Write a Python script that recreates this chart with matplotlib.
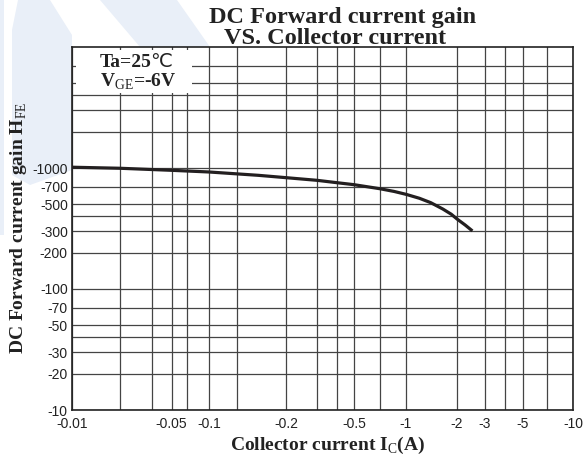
import numpy as np
import matplotlib
matplotlib.use('Agg')
import matplotlib.pyplot as plt
from matplotlib.patches import Polygon, Rectangle

plt.rcParams['mathtext.fontset'] = 'custom'
plt.rcParams['mathtext.rm'] = 'Liberation Serif'
plt.rcParams['mathtext.bf'] = 'Liberation Serif:bold'

# Curva hFE vs Ic (en modulo)
ic = [0.01, 0.02, 0.05, 0.1, 0.17, 0.2, 0.3, 0.4, 0.5, 0.7, 0.85, 1.0, 1.2, 1.4, 1.65, 1.85, 2.0, 2.25, 2.5]
hfe = [1015, 995, 957, 927, 870, 832, 791, 756, 728, 674, 640, 606, 562, 517, 458, 415, 379, 338, 302]

# Ticks con etiqueta
x_ticks = [0.01, 0.05, 0.1, 0.2, 0.5, 1, 2, 3, 5, 10]
x_labels = ['-0.01', '-0.05', '-0.1', '-0.2', '-0.5', '-1', '-2', '-3', '-5', '-10']
y_ticks = [10, 20, 30, 50, 70, 100, 200, 300, 500, 700, 1000]
y_labels = ['-10', '-20', '-30', '-50', '-70', '-100', '-200', '-300', '-500', '-700', '-1000']

# Lineas de grilla sin etiqueta
x_grid = [0.02, 0.03, 0.07, 0.15, 0.3, 0.4, 0.7, 4, 7]
y_grid = [40, 400, 2000, 3000, 4000, 5000, 7000]

# El eje X del original no es logaritmico puro: escala por tramos
scale_vals = [0.01, 0.02, 0.03, 0.05, 0.07, 0.1, 0.15, 0.2, 0.3, 0.4, 0.5, 0.7, 1, 2, 3, 4, 5, 7, 10]
scale_pos = np.array([0, 48, 80, 99.5, 115, 137, 165, 214, 245, 265, 282, 308, 334,
                      385, 413, 433, 451, 475, 501]) / 501.0
scale_log = np.log10(scale_vals)


def fwd(x):
    x = np.clip(np.asarray(x, dtype=float), 1e-6, None)
    return np.interp(np.log10(x), scale_log, scale_pos)


def inv(u):
    return 10 ** np.interp(np.asarray(u, dtype=float), scale_pos, scale_log)


W, H = 588, 457
fig = plt.figure(figsize=(W / 100, H / 100), dpi=100)

# marca de agua celeste de fondo
wm = '#e9eff8'
for pts in [
    [(0, 0), (4, 0), (4, 235), (0, 235)],
    [(18, 0), (50, 0), (72, 35), (72, 170), (30, 185), (12, 175), (12, 30)],
    [(100, 0), (177, 0), (210, 47), (140, 47)],
]:
    fig.add_artist(Polygon([(px / W, 1 - py / H) for px, py in pts], closed=True,
                           facecolor=wm, edgecolor='none', transform=fig.transFigure, zorder=0))

ax = fig.add_axes([72 / W, 1 - 410 / H, (573 - 72) / W, (410 - 47) / H])
ax.set_facecolor('white')
ax.set_xscale('function', functions=(fwd, inv))
ax.set_yscale('log')
ax.set_xlim(0.01, 10)
ax.set_ylim(10, 10000)

ax.set_xticks(x_ticks)
ax.set_xticklabels(x_labels)
ax.set_xticks(x_grid, minor=True)
ax.set_xticklabels([], minor=True)
ax.set_yticks(y_ticks)
ax.set_yticklabels(y_labels)
ax.set_yticks(y_grid, minor=True)
ax.set_yticklabels([], minor=True)

ax.tick_params(which='both', length=0)
ax.tick_params(axis='x', pad=5)
ax.tick_params(axis='y', pad=3)
for lab in ax.get_xticklabels() + ax.get_yticklabels():
    lab.set_fontfamily('Liberation Sans')
    lab.set_fontsize(10)
    lab.set_color('#222222')

ax.grid(True, which='both', color='#444444', linewidth=0.9)
for sp in ax.spines.values():
    sp.set_linewidth(1.2)
    sp.set_color('#222222')

# caja blanca con condiciones
ax.add_patch(Rectangle((4 / 501, (410 - 93) / 363), (192 - 76) / 501, 43 / 363,
                       transform=ax.transAxes, facecolor='white', edgecolor='none', zorder=2))
t1 = ax.text((100 - 72) / 501, (410 - 67) / 363, 'Ta=25', transform=ax.transAxes,
             family='Liberation Serif', fontweight='bold', fontsize=14,
             va='baseline', ha='left', color='#222222', zorder=4)
ax.annotate('℃', xy=(1, 0), xycoords=t1, xytext=(-1, 0), textcoords='offset points',
            family=['Liberation Serif', 'DejaVu Sans'], fontweight='normal', fontsize=14,
            va='bottom', ha='left', color='#222222', zorder=4)
ax.text((100 - 72) / 501, (410 - 87) / 363, r'$\mathbf{V}_{\mathrm{GE}}$=-6V', transform=ax.transAxes,
        family='Liberation Serif', fontweight='bold', fontsize=14,
        va='baseline', ha='left', color='#222222', zorder=4)

ax.plot(ic, hfe, color='#231f20', linewidth=2.3, solid_capstyle='butt', zorder=3)

fig.text(343 / W, 1 - 22.5 / H, 'DC Forward current gain', ha='center', va='baseline',
         family='Liberation Serif', fontweight='bold', fontsize=17.5, color='#222222')
fig.text(335 / W, 1 - 44.5 / H, 'VS. Collector current', ha='center', va='baseline',
         family='Liberation Serif', fontweight='bold', fontsize=17.5, color='#222222')
fig.text(328 / W, 1 - 450 / H, r'Collector current $\mathbf{I}_{\mathrm{C}}$(A)', ha='center',
         va='baseline', family='Liberation Serif', fontweight='bold', fontsize=14, color='#222222')
fig.text(19 / W, 1 - 228 / H, r'DC Forward current gain $\mathbf{H}_{\mathrm{FE}}$', ha='center',
         va='center', rotation=90, family='Liberation Serif', fontweight='bold', fontsize=14,
         color='#222222')

plt.savefig('out.png', dpi=100)
plt.close()
